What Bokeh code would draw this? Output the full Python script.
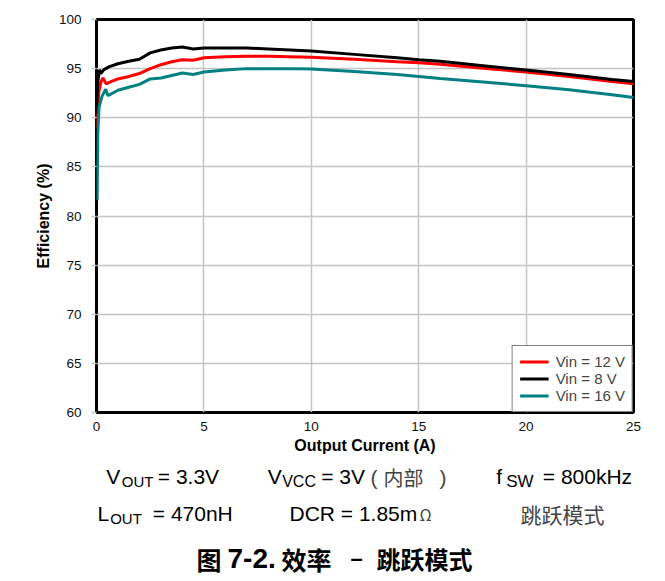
from bokeh.plotting import figure
from bokeh.models import Label, Legend, LegendItem, FixedTicker
from bokeh.layouts import column
from bokeh.embed import file_html
from bokeh.resources import INLINE

# ---------------- data ----------------
current_12v = [0.02, 0.1, 0.2, 0.3, 0.45, 0.7, 1.0, 1.5, 2.0, 2.5, 3.0, 3.5, 4.0, 4.5, 5.0,
               6.0, 7.0, 8.0, 9.0, 10.0, 12.0, 14.0, 15.0, 16.0, 18.0, 20.0, 22.0, 24.0, 25.0]
eff_12v = [89.0, 92.5, 93.6, 94.05, 93.45, 93.7, 93.95, 94.2, 94.5, 95.0, 95.4, 95.7, 95.9, 95.85, 96.1,
           96.2, 96.25, 96.25, 96.2, 96.15, 95.95, 95.7, 95.6, 95.45, 95.05, 94.65, 94.2, 93.7, 93.45]

current_8v = [0.0, 0.05, 0.15, 0.2, 0.35, 0.6, 1.0, 1.5, 2.0, 2.5, 3.0, 3.5, 4.0, 4.5, 5.0,
              6.0, 7.0, 8.0, 9.0, 10.0, 12.0, 14.0, 15.0, 16.0, 18.0, 20.0, 22.0, 24.0, 25.0]
eff_8v = [90.4, 93.5, 94.9, 94.5, 94.9, 95.2, 95.5, 95.75, 95.95, 96.6, 96.9, 97.1, 97.2, 97.0, 97.1,
          97.1, 97.1, 97.0, 96.9, 96.8, 96.45, 96.1, 95.9, 95.75, 95.3, 94.85, 94.4, 93.9, 93.7]

current_16v = [0.03, 0.06, 0.12, 0.26, 0.43, 0.53, 1.0, 1.5, 2.0, 2.5, 3.0, 3.5, 4.0, 4.5, 5.0,
               6.0, 7.0, 8.0, 9.0, 10.0, 12.0, 14.0, 15.0, 16.0, 18.0, 20.0, 22.0, 24.0, 25.0]
eff_16v = [81.6, 88.4, 91.1, 92.2, 92.9, 92.25, 92.8, 93.1, 93.4, 93.95, 94.05, 94.3, 94.55, 94.4, 94.65,
           94.85, 95.0, 95.0, 95.0, 94.95, 94.7, 94.4, 94.2, 94.0, 93.65, 93.25, 92.85, 92.35, 92.07]

series_names = ["Vin = 12 V", "Vin = 8 V", "Vin = 16 V"]
series_colors = ["#FF0000", "#000000", "#008080"]

x_ticks = [0, 5, 10, 15, 20, 25]
y_ticks = [60, 65, 70, 75, 80, 85, 90, 95, 100]

# ---------------- chart figure ----------------
FRAME_LEFT = 96
p = figure(width=663, height=460, x_range=(0, 25), y_range=(60, 100),
           output_backend="svg", toolbar_location=None,
           min_border_left=FRAME_LEFT, min_border_right=30, min_border_top=19, min_border_bottom=48)

p.background_fill_color = "white"
p.border_fill_color = "white"
p.outline_line_color = "black"
p.outline_line_width = 3

p.xaxis.ticker = FixedTicker(ticks=x_ticks)
p.yaxis.ticker = FixedTicker(ticks=y_ticks)
p.xgrid.ticker = FixedTicker(ticks=x_ticks)
p.ygrid.ticker = FixedTicker(ticks=y_ticks)
p.grid.grid_line_color = "#c4c4c4"
p.grid.grid_line_width = 1.5

for ax in (p.xaxis[0], p.yaxis[0]):
    ax.axis_line_color = None
    ax.minor_tick_line_color = None
    ax.major_label_text_font = "Liberation Sans"
    ax.major_label_text_font_size = "13.5px"
    ax.major_label_text_color = "#111111"
    ax.axis_label_text_font = "Liberation Sans"
    ax.axis_label_text_font_style = "bold"
    ax.axis_label_text_font_size = "16px"
    ax.axis_label_text_color = "black"

p.xaxis.axis_label = "Output Current (A)"
p.xaxis.major_tick_line_color = None
p.xaxis.major_tick_out = 0
p.xaxis.major_tick_in = 0
p.xaxis.major_label_standoff = 9
p.xaxis.axis_label_standoff = 3

p.yaxis.axis_label = "Efficiency (%)"
p.yaxis.major_tick_line_color = "#c4c4c4"
p.yaxis.major_tick_line_width = 1.5
p.yaxis.major_tick_out = 5
p.yaxis.major_tick_in = 0
p.yaxis.major_label_standoff = 10
p.yaxis.axis_label_standoff = 4

r12 = p.line(current_12v, eff_12v, line_color=series_colors[0], line_width=3)
r8 = p.line(current_8v, eff_8v, line_color=series_colors[1], line_width=3)
r16 = p.line(current_16v, eff_16v, line_color=series_colors[2], line_width=3)

legend = Legend(items=[LegendItem(label=series_names[0], renderers=[r12]),
                       LegendItem(label=series_names[1], renderers=[r8]),
                       LegendItem(label=series_names[2], renderers=[r16])],
                location="bottom_right", margin=0, padding=7, spacing=0,
                glyph_width=29, glyph_height=17, label_height=17, label_standoff=7,
                label_text_font="Liberation Sans", label_text_font_size="15px",
                border_line_color="black", border_line_width=1.5,
                background_fill_color="white", background_fill_alpha=1.0)
p.add_layout(legend)

# ---------------- text panel below the chart ----------------
PANEL_H = 121
Y_REF = 591  # page y that corresponds to screen y = 0 of the text panel (observed)
q = figure(width=663, height=PANEL_H, x_range=(0, 1), y_range=(0, 1), title=None,
           output_backend="svg", toolbar_location=None,
           min_border_left=FRAME_LEFT, min_border_right=30, min_border_top=0, min_border_bottom=0)
q.axis.visible = False
q.grid.visible = False
q.outline_line_color = None
q.background_fill_color = "white"
q.border_fill_color = "white"

LAT = "Liberation Sans"
CJK = "Noto Sans CJK SC"


def txt(px, py, s, size, font=LAT, style="normal", color="black", align="left"):
    # px, py: page position of the text's left end / baseline
    q.add_layout(Label(x=px - FRAME_LEFT, y=Y_REF - py, x_units="screen", y_units="screen",
                       text=s, text_font=font, text_font_size=size, text_font_style=style,
                       text_color=color, text_align=align, text_baseline="alphabetic"))


r1, r1s = 486, 491
r2, r2s = 523, 528

txt(105.7, r1, "V", "21px")
txt(121.3, r1s, "OUT", "15px")
txt(157.3, r1, "= 3.3V", "21px")

txt(267.3, r1, "V", "21px")
txt(281.7, r1s, "VCC", "16px")
txt(320.7, r1, "= 3V", "21px")
txt(370, r1 + 1, "(", "21px", color="#444444")
txt(383, r1 + 1, "内部", "20px", font=CJK, color="#444444")
txt(439, r1 + 1, ")", "21px", color="#444444")

txt(495.7, r1, "f", "21px")
txt(505.7, r1s, "SW", "17px")
txt(542.3, r1, "= 800kHz", "21px")

txt(97, r2, "L", "21px")
txt(109.7, r2s, "OUT", "15px")
txt(152.3, r2, "= 470nH", "21px")

txt(289, r2, "DCR = 1.85m", "21px")
txt(419, r2, "Ω", "16px", font=CJK, color="#444444")

txt(520, r2, "跳跃模式", "21px", font=CJK, color="#444444")

cap = 568
txt(196, cap, "图", "25px", font=CJK, style="bold")
txt(227, cap, "7-2.", "28px", style="bold")
txt(281, cap, "效率", "25px", font=CJK, style="bold")
txt(350, cap, "–", "22px", style="bold")
txt(376, cap, "跳跃模式", "24px", font=CJK, style="bold")

open("out.html", "w").write(file_html(column(p, q, spacing=0), INLINE))
